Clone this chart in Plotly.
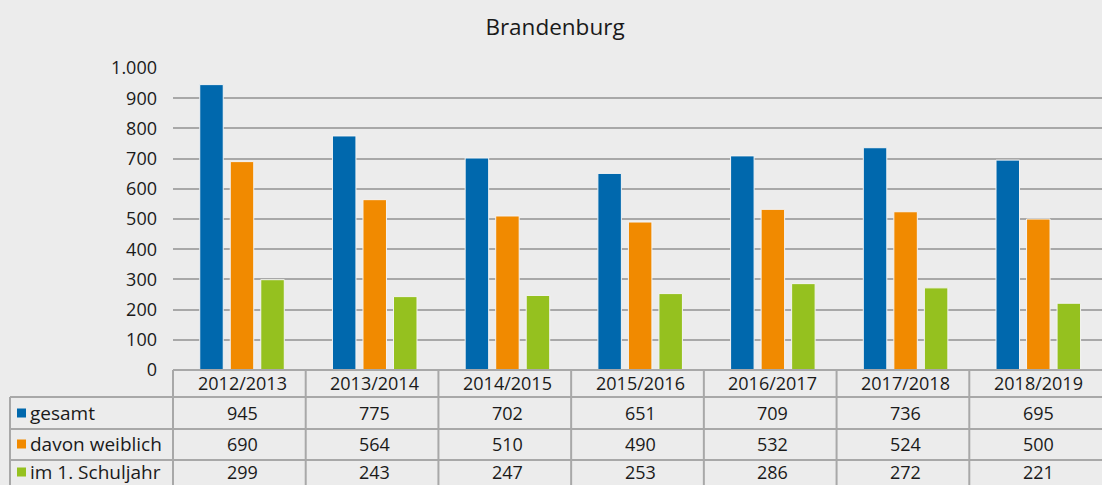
import plotly.graph_objects as go

categories = ["2012/2013", "2013/2014", "2014/2015", "2015/2016", "2016/2017", "2017/2018", "2018/2019"]
series_names = ["gesamt", "davon weiblich", "im 1. Schuljahr"]
gesamt = [945, 775, 702, 651, 709, 736, 695]
weiblich = [690, 564, 510, 490, 532, 524, 500]
schuljahr = [299, 243, 247, 253, 286, 272, 221]
colors = ["#0068ad", "#f18a00", "#95c11f"]
series_values = [gesamt, weiblich, schuljahr]
y_ticks = [0, 100, 200, 300, 400, 500, 600, 700, 800, 900, 1000]

W, H = 1102, 485
L, R, T, B = 173, 0, 68, 115
PW = W - L - R
PH = H - T - B
BG = "#ececec"
GRID = "#a8a8a8"
FONT = "Open Sans"
TXT = "#1a1a1a"
FS = 18


def px_x(p):
    return (p - L) / PW


def px_y(p):
    return (H - B - p) / PH


fig = go.Figure()
for name, vals, col in zip(series_names, series_values, colors):
    fig.add_trace(go.Bar(
        x=categories, y=vals, name=name,
        marker=dict(color=col, line=dict(color="#f4f4f4", width=1)),
        showlegend=False, hoverinfo="x+y+name",
    ))

shapes = []
n = len(categories)
row_lines = [370, 397, 429, 460]
shapes.append(dict(type="line", xref="paper", yref="paper", x0=0, x1=1,
                   y0=px_y(row_lines[0]), y1=px_y(row_lines[0]), line=dict(color=GRID, width=2)))
for rl in row_lines[1:]:
    shapes.append(dict(type="line", xref="paper", yref="paper", x0=px_x(10), x1=1,
                       y0=px_y(rl), y1=px_y(rl), line=dict(color=GRID, width=2)))
shapes.append(dict(type="line", xref="paper", yref="paper", x0=px_x(10), x1=px_x(10),
                   y0=px_y(397), y1=px_y(H + 5), line=dict(color=GRID, width=2)))
for i in range(n):
    xv = i / n
    shapes.append(dict(type="line", xref="paper", yref="paper", x0=xv, x1=xv,
                       y0=px_y(370), y1=px_y(H + 5), line=dict(color=GRID, width=2)))

annotations = []
row_centers = [383, 413, 444, 472]
for c in categories:
    annotations.append(dict(x=c, xref="x", y=px_y(row_centers[0]), yref="paper",
                            text=c, showarrow=False, font=dict(size=FS, color=TXT, family=FONT),
                            xanchor="center", yanchor="middle", borderpad=0))
for r, (name, vals, col) in enumerate(zip(series_names, series_values, colors)):
    yc = px_y(row_centers[r + 1])
    annotations.append(dict(x=px_x(29), xref="paper", y=yc, yref="paper",
                            text=name, showarrow=False, font=dict(size=19, color=TXT, family=FONT),
                            xanchor="left", yanchor="middle", borderpad=0))
    shapes.append(dict(type="rect", xref="paper", yref="paper",
                       x0=px_x(17), x1=px_x(26), y0=px_y(row_centers[r + 1] + 4.5),
                       y1=px_y(row_centers[r + 1] - 4.5), fillcolor=col, line=dict(width=0)))
    for c, v in zip(categories, vals):
        annotations.append(dict(x=c, xref="x", y=yc, yref="paper",
                                text=str(v), showarrow=False,
                                font=dict(size=FS, color=TXT, family=FONT),
                                xanchor="center", yanchor="middle", borderpad=0))

fig.update_layout(
    width=W, height=H,
    margin=dict(l=L, r=R, t=T, b=B, pad=0),
    paper_bgcolor=BG, plot_bgcolor=BG,
    separators=",.",
    title=dict(text="Brandenburg", x=555 / W, xanchor="center", y=1 - 27 / H, yanchor="middle",
               font=dict(size=22.5, color=TXT, family=FONT)),
    barmode="group", bargap=0.31, bargroupgap=0.23,
    font=dict(family=FONT, size=FS, color=TXT),
    xaxis=dict(showticklabels=False, showgrid=False, zeroline=False, showline=False,
               range=[-0.52, n - 0.52], fixedrange=True),
    yaxis=dict(range=[0, 1000], tickvals=y_ticks, tickformat=",d", showgrid=True,
               gridcolor=GRID, gridwidth=2, zeroline=False, showline=False,
               ticks="", ticklabelstandoff=15, tickfont=dict(size=FS, color=TXT, family=FONT)),
    shapes=shapes, annotations=annotations,
)

fig.write_html("out.html", config={"displayModeBar": False},
               post_script="document.body.style.margin='0';document.body.style.background='#ececec';document.body.style.overflow='hidden';")
